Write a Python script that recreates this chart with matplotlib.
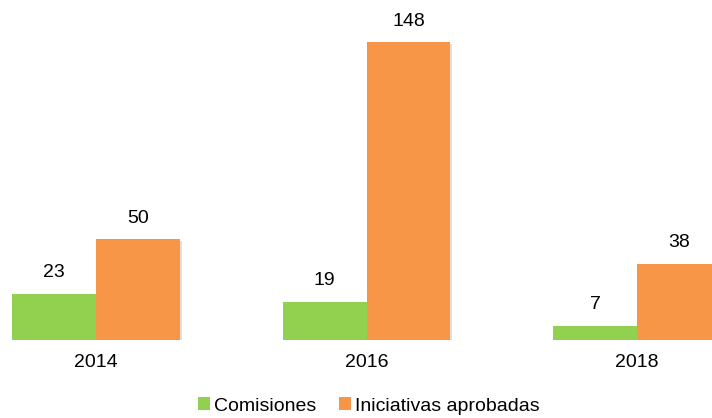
import matplotlib
matplotlib.use('Agg')
import matplotlib.pyplot as plt
import matplotlib.patheffects as pe
import numpy as np

years = ['2014', '2016', '2018']
comisiones = [23, 19, 7]
iniciativas = [50, 148, 38]

green = '#92D050'
orange = '#F79646'

plt.rcParams['font.family'] = ['Liberation Sans', 'DejaVu Sans']

fig = plt.figure(figsize=(7.12, 4.18), dpi=100)
ax = fig.add_axes([0, 78 / 418, 1, 340 / 418])

x = np.arange(len(years))
w = 0.31
shadow = [pe.SimplePatchShadow(offset=(1.5, -1.5), shadow_rgbFace='gray', alpha=0.25), pe.Normal()]

b1 = ax.bar(x - w / 2, comisiones, w, color=green, label='Comisiones', path_effects=shadow)
b2 = ax.bar(x + w / 2, iniciativas, w, color=orange, label='Iniciativas aprobadas', path_effects=shadow)

for bars, vals in ((b1, comisiones), (b2, iniciativas)):
    for b, v in zip(bars, vals):
        ax.annotate(str(v), (b.get_x() + b.get_width() / 2, v), xytext=(0, 9),
                    textcoords='offset points', ha='center', va='bottom', fontsize=14)

ax.set_xlim(-0.355, 2.277)
ax.set_ylim(0, 168.9)
ax.set_xticks(x)
ax.set_xticklabels(years, fontsize=14)
ax.tick_params(axis='x', length=0, pad=10)
ax.set_yticks([])
for s in ax.spines.values():
    s.set_visible(False)

leg = fig.legend(handles=[b1, b2], loc='center', bbox_to_anchor=(369 / 712, 1 - 406 / 418),
                 ncol=2, frameon=False, fontsize=14, handlelength=0.6, handleheight=0.6,
                 handletextpad=0.2, columnspacing=1.2)
for h in leg.legend_handles:
    h.set_path_effects([])

fig.savefig('out.png', dpi=100)
